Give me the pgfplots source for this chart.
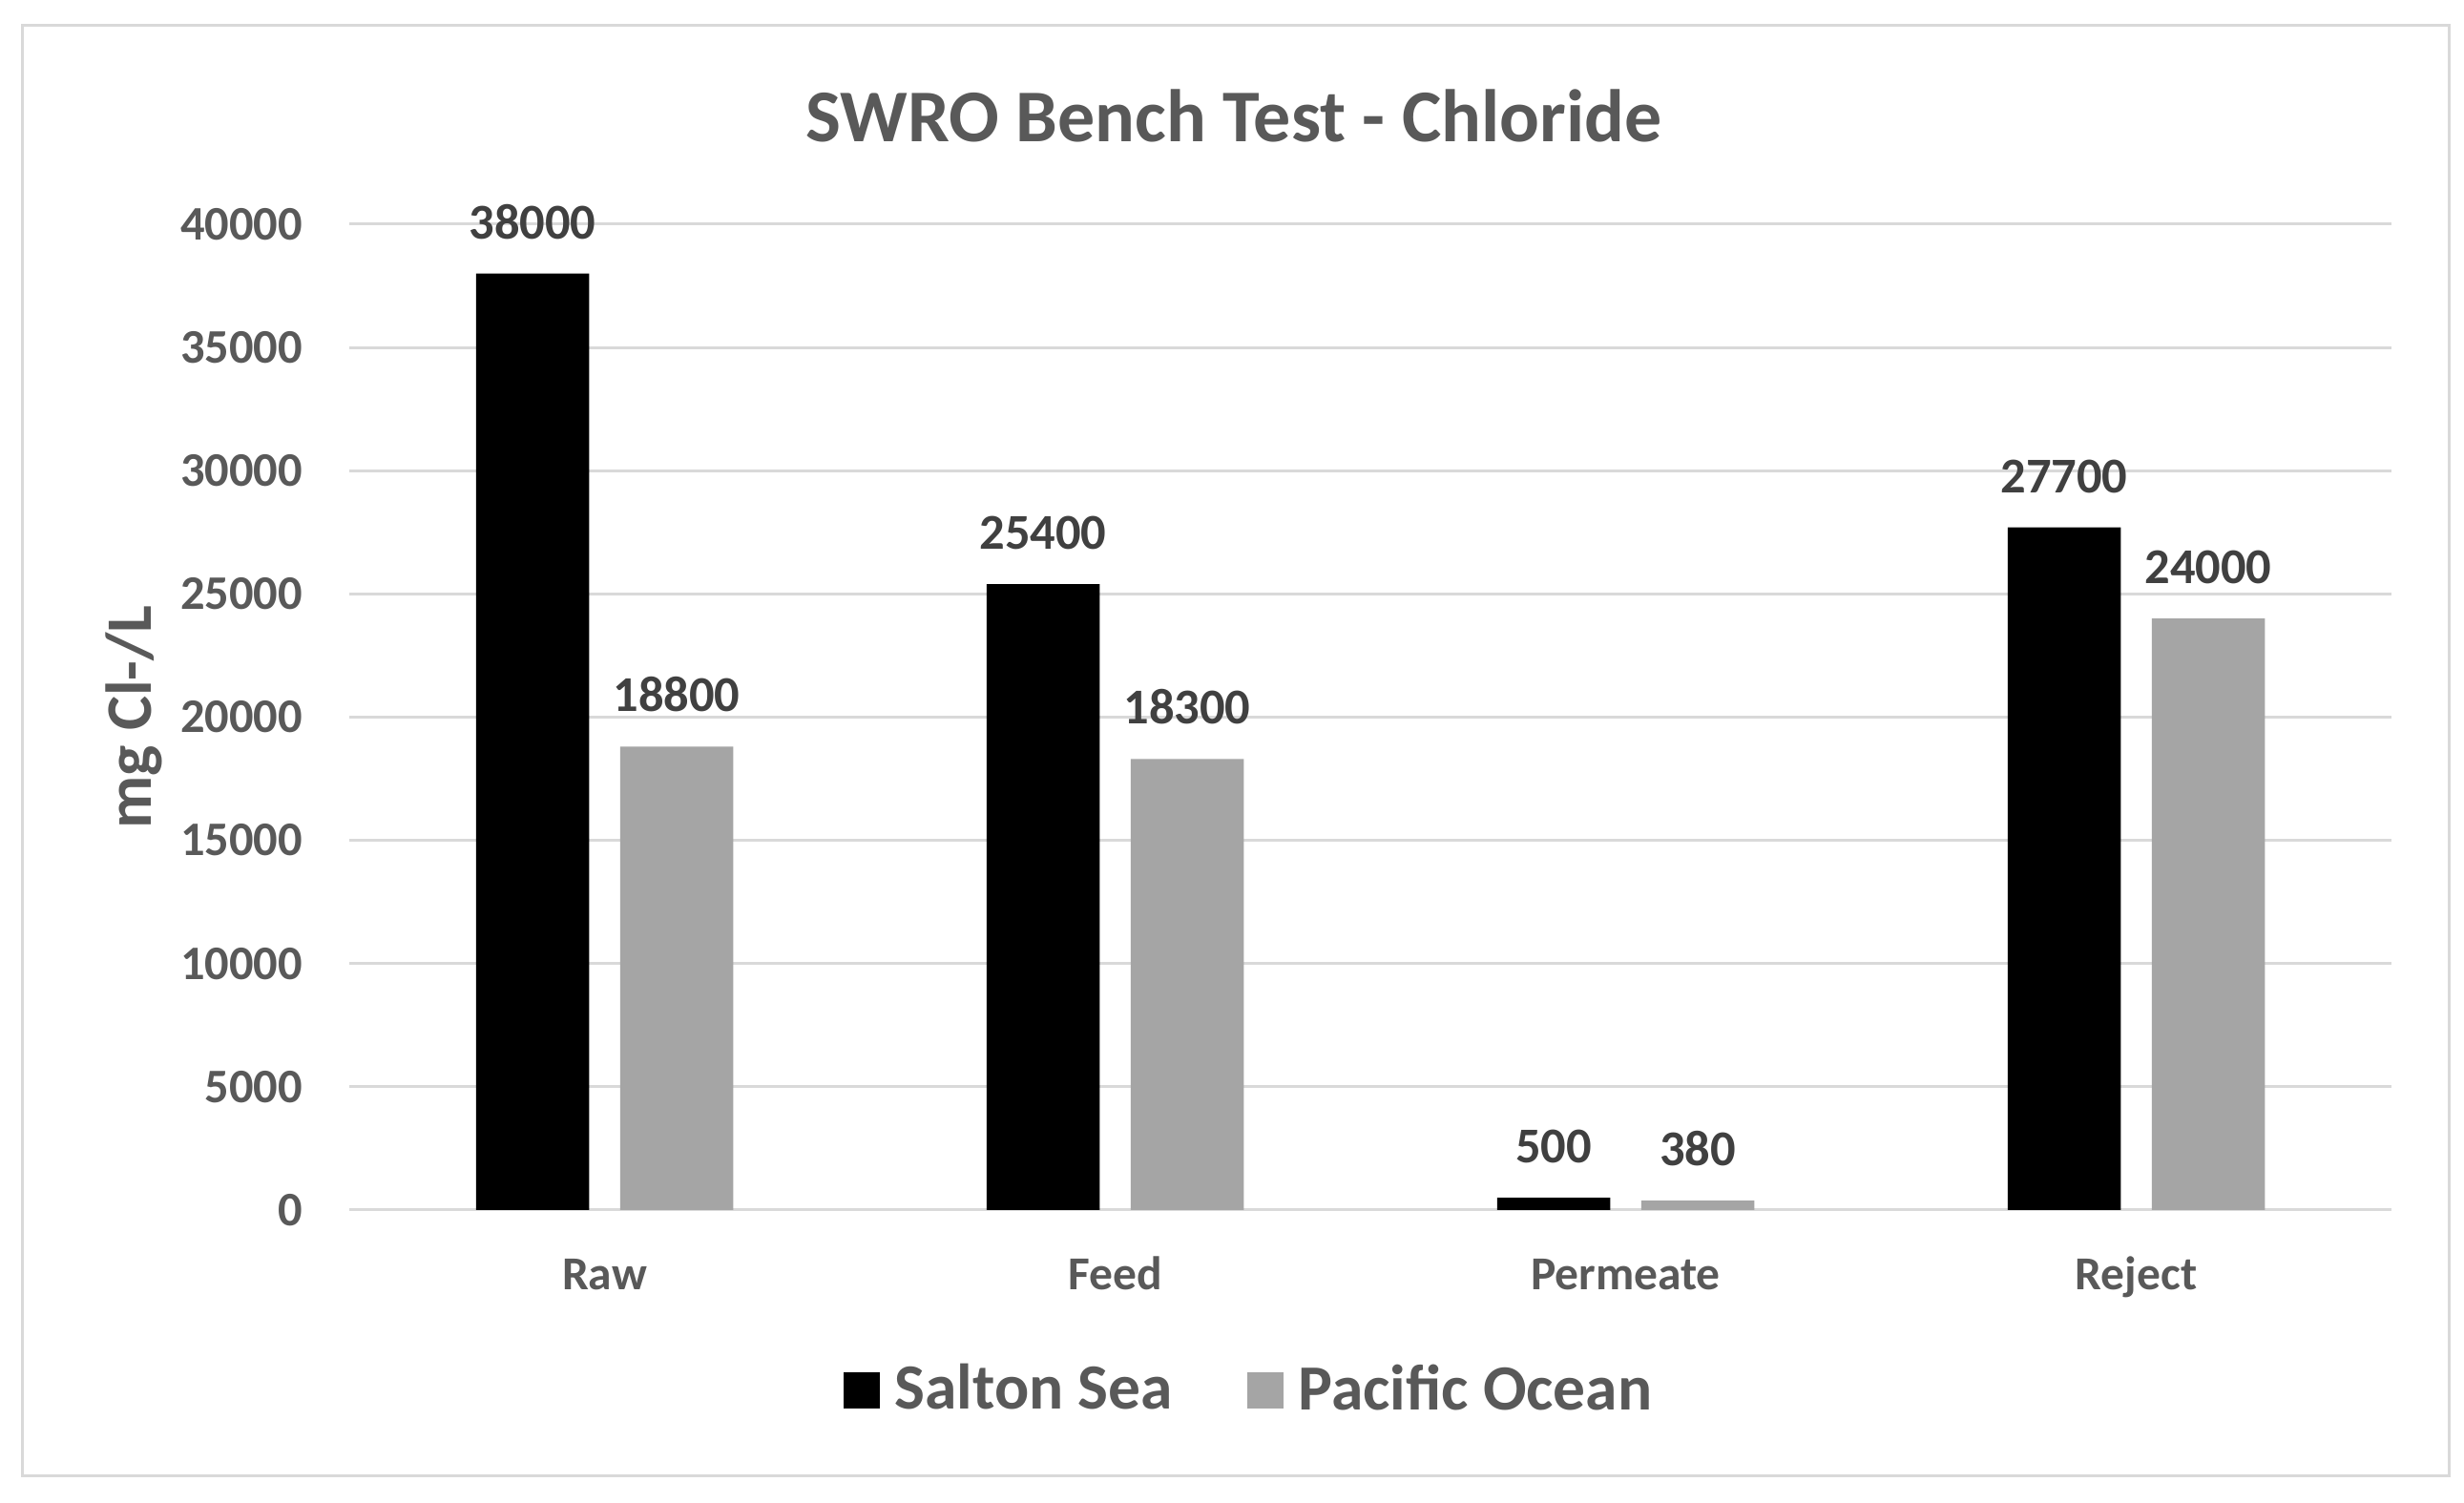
\documentclass[border=0pt]{standalone}
\usepackage{pgfplots}
\pgfplotsset{compat=1.18}
\usepackage{fontspec}
\setmainfont{Carlito}
\definecolor{txt}{HTML}{595959}
\definecolor{lbl}{HTML}{404040}
\definecolor{gridc}{HTML}{D9D9D9}
\definecolor{pac}{HTML}{A5A5A5}
\definecolor{framec}{HTML}{D9D9D9}
\begin{document}
\begin{tikzpicture}
\useasboundingbox (0,0) rectangle (516.4pt,315pt);
\fill[white] (0,0) rectangle (516.4pt,315pt);
\draw[framec, line width=0.6pt] (4.6pt,5.6pt) rectangle (513.2pt,309.6pt);
\begin{axis}[
  at={(73.2pt,61.4pt)}, anchor=south west,
  scale only axis, width=428pt, height=206.6pt,
  xmin=-0.5, xmax=3.5, ymin=0, ymax=40000,
  xtick={0,1,2,3}, xticklabels={Raw,Feed,Permeate,Reject},
  ytick={0,5000,...,40000},
  scaled y ticks=false,
  /pgf/number format/.cd, fixed, precision=0, 1000 sep={}, assume math mode=true,
  /pgfplots/.cd,
  ymajorgrids, major grid style={gridc, line width=0.6pt},
  axis line style={draw=none}, tick style={draw=none},
  clip=false,
  ybar, bar width=23.7pt,
  yticklabel style={font=\bfseries\fontsize{10.1}{12}\selectfont, text=txt, anchor=east, inner sep=0pt, xshift=-9.6pt},
  xticklabel style={font=\bfseries\fontsize{9.9}{12}\selectfont, text=txt, anchor=base, inner sep=0pt, yshift=-12.4pt},
  title={SWRO Bench Test - Chloride},
  title style={at={(axis description cs:0.4332,1.0813)}, anchor=center, font=\bfseries\fontsize{15.6}{19}\selectfont, text=txt},
  ylabel={mg Cl-/L},
  every axis y label/.style={at={(axis description cs:-0.1056,0.5)}, rotate=90, anchor=center, font=\bfseries\fontsize{13.6}{16}\selectfont, text=txt},
  nodes near coords,
  every node near coord/.append style={font=\bfseries\fontsize{10.5}{12}\selectfont, text=lbl, anchor=base, inner sep=0pt, yshift=7.3pt},
  legend columns=2,
  legend style={at={(0.4425,-0.183)}, anchor=center, draw=none, fill=none,
    font=\bfseries\fontsize{13.5}{16}\selectfont, text=txt,
    /tikz/every odd column/.append style={column sep=1pt},
    /tikz/every even column/.append style={column sep=13.7pt}},
]
\addplot[fill=black, draw=none, bar shift=-15.1pt,
  legend image code/.code={\fill[black] (0pt,-3.8pt) rectangle (7.6pt,3.8pt);}]
  coordinates {(0,38000) (1,25400) (2,500) (3,27700)};
\addlegendentry{Salton Sea}
\addplot[fill=pac, draw=none, bar shift=15.1pt,
  legend image code/.code={\fill[pac] (0pt,-3.8pt) rectangle (7.6pt,3.8pt);}]
  coordinates {(0,18800) (1,18300) (2,380) (3,24000)};
\addlegendentry{Pacific Ocean}
\end{axis}
\end{tikzpicture}
\end{document}
